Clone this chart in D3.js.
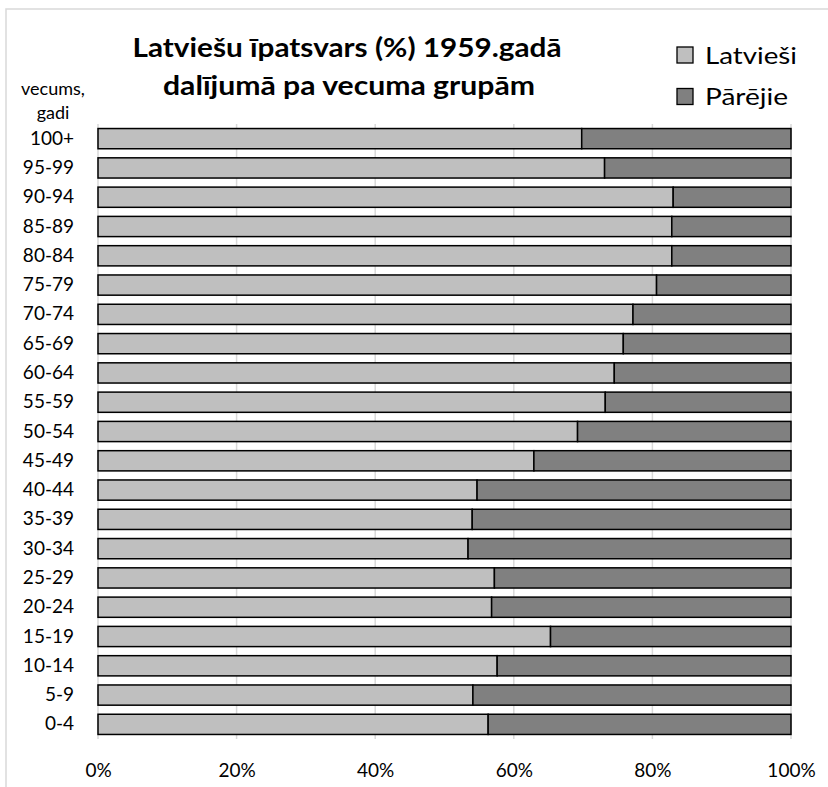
<!DOCTYPE html>
<html><head><meta charset="utf-8">
<script src="https://cdn.jsdelivr.net/npm/d3@7"></script>
<style>body{margin:0;background:#fff}svg{display:block}text{font-family:Lato,"Open Sans",sans-serif;fill:#000}</style>
</head><body>
<script>
const categories = ["100+","95-99","90-94","85-89","80-84","75-79","70-74","65-69","60-64","55-59","50-54","45-49","40-44","35-39","30-34","25-29","20-24","15-19","10-14","5-9","0-4"];
const latviesi = [69.8,73.1,83.0,82.8,82.8,80.6,77.2,75.8,74.5,73.2,69.2,62.9,54.7,54.0,53.4,57.2,56.8,65.3,57.6,54.1,56.3];
const parejie = latviesi.map(v => +(100 - v).toFixed(1));
const seriesNames = ["Latvieši","Pārējie"];
const colors = ["#bfbfbf","#808080"];
const xTicks = [0,20,40,60,80,100];

const W = 828, H = 787;
const svg = d3.select("body").append("svg").attr("width", W).attr("height", H);

// frame
svg.append("path").attr("d", `M6,${H} L6,9 L${W},9`).attr("fill","none").attr("stroke","#d9d9d9").attr("stroke-width",1.5);

const x = d3.scaleLinear().domain([0,100]).range([98,791]);
const y = d3.scaleBand().domain(categories).range([124,739]).paddingInner(0.31).paddingOuter(0.155);

// gridlines
svg.append("g").selectAll("line").data(xTicks).join("line")
  .attr("x1", d=>x(d)).attr("x2", d=>x(d)).attr("y1",124).attr("y2",739)
  .attr("stroke","#d9d9d9").attr("stroke-width",1.5);

const rows = categories.map((c,i)=>({c, a: latviesi[i], b: parejie[i]}));
const stack = d3.stack().keys(["a","b"])(rows);

svg.append("g").selectAll("g").data(stack).join("g")
  .attr("fill", (d,i)=>colors[i])
  .selectAll("rect").data(d=>d).join("rect")
  .attr("x", d=>x(d[0])).attr("width", d=>x(d[1])-x(d[0]))
  .attr("y", d=>y(d.data.c)).attr("height", y.bandwidth())
  .attr("stroke","#000").attr("stroke-width",1.5);

// y axis labels
const yAxis = d3.axisLeft(y).tickSize(0).tickPadding(0);
const gy = svg.append("g").attr("transform","translate(74,0)").call(yAxis);
gy.select(".domain").remove();
gy.selectAll("text").attr("font-size",19).style("font-family","Lato,'Open Sans',sans-serif");

// x axis labels
const xAxis = d3.axisBottom(x).tickValues(xTicks).tickFormat(d=>d+"%").tickSize(0).tickPadding(0);
const gx = svg.append("g").attr("transform","translate(0,763)").call(xAxis);
gx.select(".domain").remove();
gx.selectAll("text").attr("font-size",19).attr("dy","0.72em").style("font-family","Lato,'Open Sans',sans-serif");

// axis title
svg.append("text").attr("x",53).attr("y",95).attr("text-anchor","middle").attr("font-size",18).text("vecums,");
svg.append("text").attr("x",53).attr("y",119).attr("text-anchor","middle").attr("font-size",18).text("gadi");

// title
svg.append("text").attr("x",347).attr("y",57).attr("text-anchor","middle").attr("font-size",26).attr("font-weight","bold")
  .attr("textLength",429).attr("lengthAdjust","spacingAndGlyphs").text("Latviešu īpatsvars (%) 1959.gadā");
svg.append("text").attr("x",349).attr("y",95).attr("text-anchor","middle").attr("font-size",26).attr("font-weight","bold")
  .attr("textLength",372).attr("lengthAdjust","spacingAndGlyphs").text("dalījumā pa vecuma grupām");

// legend
const legendWidths = [92, 83];
const lg = svg.append("g").selectAll("g").data(seriesNames).join("g")
  .attr("transform",(d,i)=>`translate(677,${47+i*41.5})`);
lg.append("rect").attr("width",16).attr("height",16).attr("fill",(d,i)=>colors[i]).attr("stroke","#000").attr("stroke-width",1.3);
lg.append("text").attr("x",28).attr("y",16.5).attr("font-size",24)
  .attr("textLength",(d,i)=>legendWidths[i]).attr("lengthAdjust","spacingAndGlyphs").text(d=>d);
</script>
</body></html>
